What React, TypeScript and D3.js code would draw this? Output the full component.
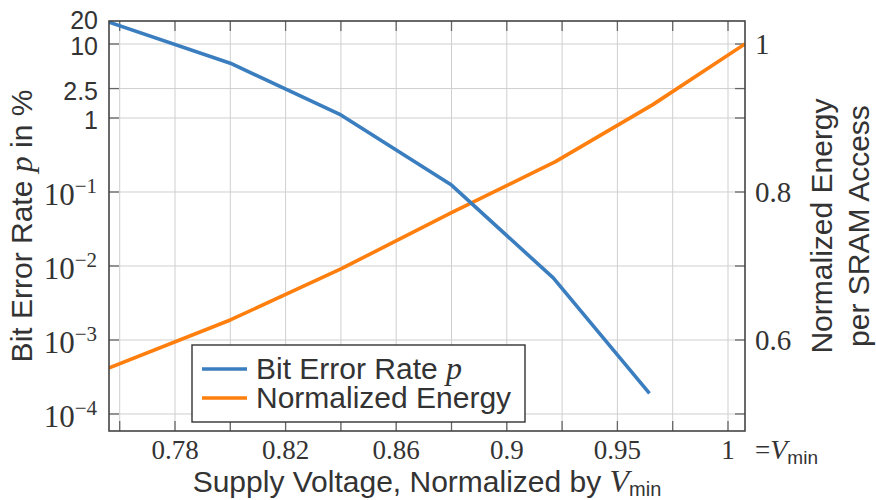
import React, { useEffect, useRef } from 'react';
import * as d3 from 'd3';

// x axis labels (normalized supply voltage) and grid positions
const xTickLabels = [0.78, 0.82, 0.86, 0.9, 0.95, 1];
const xGridValues = [0.76, 0.78, 0.8, 0.82, 0.84, 0.86, 0.88, 0.9, 0.925, 0.95, 0.975, 1];

// left axis (bit error rate in %, log)
const yLeftTicks = [20, 10, 2.5, 1, 0.1, 0.01, 0.001, 0.0001];

// right axis (normalized energy)
const yRightTicks = [0.6, 0.8, 1];

// bit error rate series
const berVoltage = [0.756, 0.8, 0.84, 0.88, 0.921, 0.9645];
const berPercent = [19.8, 5.5, 1.1, 0.124, 0.0069, 0.00019];

// normalized energy series
const energyVoltage = [0.756, 0.8, 0.84, 0.88, 0.922, 0.966, 1.0077];
const energyNorm = [0.562, 0.627, 0.696, 0.772, 0.841, 0.918, 1.0];

const BLUE = '#3a7ebf';
const ORANGE = '#ff7f0e';
const TEXT = '#333';
const SANS = '"Liberation Sans", Arial, sans-serif';
const SERIF = '"Liberation Serif", "Times New Roman", serif';

const App = () => {
  const svgRef = useRef<SVGSVGElement>(null);

  useEffect(() => {
    const svg = d3.select(svgRef.current);
    svg.selectAll('*').remove();

    const margin = { top: 21, right: 131, bottom: 69, left: 109 };
    const width = 876 - margin.left - margin.right;
    const height = 500 - margin.top - margin.bottom;

    // piecewise x scale: labels are evenly spaced on the original plot
    const firstTick = 66;
    const tickStep = 110.6;
    const x = d3.scaleLinear()
      .domain(xTickLabels)
      .range(xTickLabels.map((_, i) => firstTick + i * tickStep));

    const yLeft = d3.scaleLog()
      .domain([Math.pow(10, -4.23), Math.pow(10, 1.311)])
      .range([height, 0]);

    const yRight = d3.scaleLinear()
      .domain([0.477, 1.031])
      .range([height, 0]);

    const g = svg.append('g')
      .attr('transform', `translate(${margin.left},${margin.top})`);

    g.append('defs').append('clipPath').attr('id', 'plot-clip')
      .append('rect').attr('width', width).attr('height', height);

    // grid
    g.selectAll('.grid-x')
      .data(xGridValues)
      .enter().append('line')
      .attr('x1', d => x(d)).attr('x2', d => x(d))
      .attr('y1', 0).attr('y2', height)
      .attr('stroke', '#cfcfcf').attr('stroke-width', 1);

    g.selectAll('.grid-y')
      .data(yLeftTicks.slice(1))
      .enter().append('line')
      .attr('x1', 0).attr('x2', width)
      .attr('y1', d => yLeft(d)).attr('y2', d => yLeft(d))
      .attr('stroke', '#cfcfcf').attr('stroke-width', 1);

    // inward ticks on all four sides
    const tickLen = 10;
    const ticks = g.append('g').attr('stroke', '#666').attr('stroke-width', 1.3);
    xGridValues.forEach(v => {
      ticks.append('line').attr('x1', x(v)).attr('x2', x(v)).attr('y1', height).attr('y2', height - tickLen);
      ticks.append('line').attr('x1', x(v)).attr('x2', x(v)).attr('y1', 0).attr('y2', tickLen);
    });
    yLeftTicks.slice(1).forEach(v => {
      ticks.append('line').attr('x1', 0).attr('x2', tickLen).attr('y1', yLeft(v)).attr('y2', yLeft(v));
      ticks.append('line').attr('x1', width).attr('x2', width - tickLen).attr('y1', yLeft(v)).attr('y2', yLeft(v));
    });

    // lines
    const lines = g.append('g').attr('clip-path', 'url(#plot-clip)');

    const berLine = d3.line<number>()
      .x((_, i) => x(berVoltage[i]))
      .y(d => yLeft(d));

    const energyLine = d3.line<number>()
      .x((_, i) => x(energyVoltage[i]))
      .y(d => yRight(d));

    lines.append('path')
      .datum(energyNorm)
      .attr('d', energyLine)
      .attr('fill', 'none')
      .attr('stroke', ORANGE)
      .attr('stroke-width', 3.6)
      .attr('stroke-linejoin', 'round');

    lines.append('path')
      .datum(berPercent)
      .attr('d', berLine)
      .attr('fill', 'none')
      .attr('stroke', BLUE)
      .attr('stroke-width', 3.6)
      .attr('stroke-linejoin', 'round');

    // frame
    g.append('rect')
      .attr('width', width).attr('height', height)
      .attr('fill', 'none')
      .attr('stroke', '#444').attr('stroke-width', 1.6);

    // x tick labels
    g.selectAll('.x-label')
      .data(xTickLabels)
      .enter().append('text')
      .attr('x', d => x(d))
      .attr('y', height + 28)
      .attr('text-anchor', 'middle')
      .attr('font-family', SERIF)
      .attr('font-size', 27)
      .attr('fill', TEXT)
      .text(d => String(d));

    const vminTick = g.append('text')
      .attr('x', x(1) + 27)
      .attr('y', height + 28)
      .attr('fill', TEXT);
    vminTick.append('tspan').attr('font-family', SERIF).attr('font-size', 27).text('=');
    vminTick.append('tspan').attr('font-family', SERIF).attr('font-style', 'italic').attr('font-size', 28).text('V');
    vminTick.append('tspan').attr('font-family', SANS).attr('font-size', 19).attr('dy', 5).text('min');

    // left tick labels
    yLeftTicks.forEach((v, i) => {
      const yy = yLeft(v);
      if (v >= 1) {
        g.append('text')
          .attr('x', -11)
          .attr('y', i === 0 ? yy + 7 : yy + 11)
          .attr('text-anchor', 'end')
          .attr('font-family', SANS)
          .attr('font-size', 25)
          .attr('fill', TEXT)
          .text(String(v));
      } else {
        const t = g.append('text')
          .attr('x', -12)
          .attr('y', yy + 13)
          .attr('text-anchor', 'end')
          .attr('font-family', SERIF)
          .attr('fill', TEXT);
        t.append('tspan').attr('font-size', 31).text('10');
        t.append('tspan').attr('font-size', 21).attr('dy', -12)
          .text('\u2212' + Math.round(-Math.log10(v)));
      }
    });

    // right tick labels
    g.selectAll('.r-label')
      .data(yRightTicks)
      .enter().append('text')
      .attr('x', width + 10)
      .attr('y', d => yRight(d) + 10)
      .attr('font-family', SERIF)
      .attr('font-size', 29)
      .attr('fill', TEXT)
      .text(d => String(d));

    // axis titles
    const xTitle = g.append('text')
      .attr('x', width / 2)
      .attr('y', height + 61)
      .attr('text-anchor', 'middle')
      .attr('font-family', SANS)
      .attr('font-size', 30)
      .attr('fill', TEXT);
    xTitle.append('tspan').text('Supply Voltage, Normalized by ');
    xTitle.append('tspan').attr('font-family', SERIF).attr('font-style', 'italic').attr('font-size', 32).text('V');
    xTitle.append('tspan').attr('font-size', 20).attr('dy', 4).text('min');

    const yTitle = svg.append('text')
      .attr('transform', `translate(32,${margin.top + height / 2}) rotate(-90)`)
      .attr('text-anchor', 'middle')
      .attr('font-family', SANS)
      .attr('font-size', 30)
      .attr('fill', TEXT);
    yTitle.append('tspan').text('Bit Error Rate ');
    yTitle.append('tspan').attr('font-family', SERIF).attr('font-style', 'italic').attr('font-size', 32).text('p');
    yTitle.append('tspan').text(' in %');

    const rTitle = svg.append('text')
      .attr('transform', `translate(832,${margin.top + height / 2}) rotate(-90)`)
      .attr('text-anchor', 'middle')
      .attr('font-family', SANS)
      .attr('font-size', 30)
      .attr('fill', TEXT);
    rTitle.append('tspan').attr('x', 0).attr('dy', 0).text('Normalized Energy');
    rTitle.append('tspan').attr('x', 0).attr('dy', 37).text('per SRAM Access');

    // legend
    const legend = g.append('g').attr('transform', `translate(83,${height - 86})`);
    legend.append('rect')
      .attr('width', 333).attr('height', 77)
      .attr('fill', 'white')
      .attr('stroke', '#333').attr('stroke-width', 1.4);

    const legendItems = [
      { color: BLUE, label: 'Bit Error Rate ', math: 'p' },
      { color: ORANGE, label: 'Normalized Energy', math: '' },
    ];
    const item = legend.selectAll('.item')
      .data(legendItems)
      .enter().append('g')
      .attr('transform', (_, i) => `translate(0,${24 + i * 29})`);
    item.append('line')
      .attr('x1', 10).attr('x2', 55)
      .attr('stroke', d => d.color).attr('stroke-width', 3.6);
    const lt = item.append('text')
      .attr('x', 64).attr('y', 10)
      .attr('font-family', SANS).attr('font-size', 30)
      .attr('fill', TEXT);
    lt.append('tspan').text(d => d.label);
    lt.append('tspan').attr('font-family', SERIF).attr('font-style', 'italic').attr('font-size', 32).text(d => d.math);
  }, []);

  return (
    <>
      <style>{'body{margin:0}'}</style>
      <svg ref={svgRef} width={876} height={500} style={{ display: 'block', background: 'white' }} />
    </>
  );
};

export default App;
